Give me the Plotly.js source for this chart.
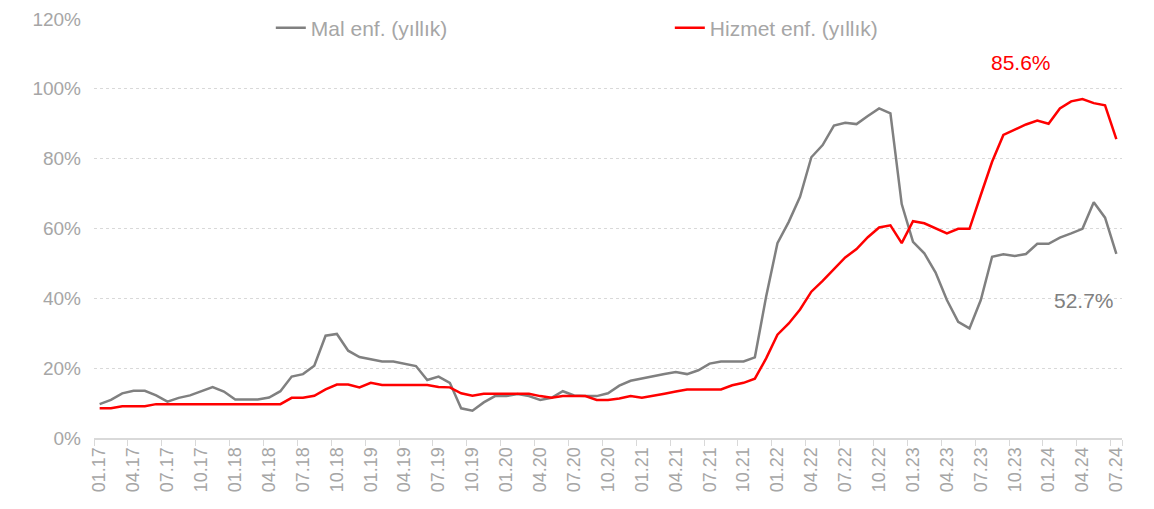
<!DOCTYPE html>
<html>
<head>
<meta charset="utf-8">
<script src="https://cdn.plot.ly/plotly-3.0.1.min.js"></script>
<style>
  html, body { margin: 0; padding: 0; background: #ffffff; }
  #chart { width: 1154px; height: 509px; }
</style>
</head>
<body>
<div id="chart"></div>
<script>
// Months (categories), 01.17 ... 07.24
const months = [
  "01.17","02.17","03.17","04.17","05.17","06.17","07.17","08.17","09.17","10.17","11.17","12.17",
  "01.18","02.18","03.18","04.18","05.18","06.18","07.18","08.18","09.18","10.18","11.18","12.18",
  "01.19","02.19","03.19","04.19","05.19","06.19","07.19","08.19","09.19","10.19","11.19","12.19",
  "01.20","02.20","03.20","04.20","05.20","06.20","07.20","08.20","09.20","10.20","11.20","12.20",
  "01.21","02.21","03.21","04.21","05.21","06.21","07.21","08.21","09.21","10.21","11.21","12.21",
  "01.22","02.22","03.22","04.22","05.22","06.22","07.22","08.22","09.22","10.22","11.22","12.22",
  "01.23","02.23","03.23","04.23","05.23","06.23","07.23","08.23","09.23","10.23","11.23","12.23",
  "01.24","02.24","03.24","04.24","05.24","06.24","07.24"
];

// Goods inflation (annual, %)
const malEnf = [
  9.7, 10.9, 12.8, 13.5, 13.5, 12.2, 10.4, 11.5, 12.2, 13.4, 14.6, 13.3,
  11.0, 11.0, 11.0, 11.6, 13.4, 17.6, 18.3, 20.7, 29.3, 29.8, 25.0, 23.2,
  22.5, 21.9, 21.9, 21.3, 20.6, 16.6, 17.6, 15.8, 8.5, 7.8, 10.2, 12.0,
  12.0, 12.6, 12.0, 10.9, 11.5, 13.4, 12.2, 12.0, 12.0, 12.8, 15.0, 16.4,
  17.1, 17.8, 18.3, 18.9, 18.3, 19.4, 21.3, 21.9, 21.9, 21.9, 23.1, 40.5,
  55.8, 61.9, 69.1, 80.4, 83.9, 89.5, 90.3, 89.9, 92.2, 94.4, 93.0, 67.0,
  56.2, 52.9, 47.4, 39.5, 33.3, 31.4, 39.5, 51.9, 52.6, 52.1, 52.7, 55.6,
  55.6, 57.4, 58.6, 59.9, 67.5, 63.1, 52.7
];

// Services inflation (annual, %)
const hizmetEnf = [
  8.5, 8.5, 9.1, 9.1, 9.1, 9.7, 9.7, 9.7, 9.7, 9.7, 9.7, 9.7,
  9.7, 9.7, 9.7, 9.7, 9.7, 11.5, 11.5, 12.1, 13.9, 15.3, 15.3, 14.5,
  15.8, 15.2, 15.2, 15.2, 15.2, 15.2, 14.6, 14.5, 12.8, 12.1, 12.7, 12.7,
  12.7, 12.7, 12.7, 12.0, 11.5, 12.0, 12.0, 12.0, 10.9, 10.9, 11.3, 12.0,
  11.5, 12.0, 12.7, 13.3, 13.9, 13.9, 13.9, 13.9, 15.1, 15.8, 17.0, 22.8,
  29.6, 32.8, 36.8, 41.9, 45.0, 48.4, 51.7, 54.1, 57.5, 60.3, 60.9, 55.8,
  62.1, 61.5, 60.0, 58.6, 59.9, 59.9, 69.6, 79.1, 86.8, 88.4, 89.8, 90.9,
  90.0, 94.4, 96.4, 97.1, 95.9, 95.3, 85.6
];

// Quarterly tick labels
const tickLabels = [
  "01.17","04.17","07.17","10.17","01.18","04.18","07.18","10.18",
  "01.19","04.19","07.19","10.19","01.20","04.20","07.20","10.20",
  "01.21","04.21","07.21","10.21","01.22","04.22","07.22","10.22",
  "01.23","04.23","07.23","10.23","01.24","04.24","07.24"
];

const seriesNames = ["Mal enf. (yıllık)", "Hizmet enf. (yıllık)"];

const FONT = "Liberation Sans, Arial, sans-serif";
const GRID = "#d9d9d9";
const TXT = "#a6a6a6";

const traces = [
  {
    x: months, y: malEnf, name: seriesNames[0], type: "scatter", mode: "lines",
    line: { color: "#808080", width: 2.5 }, hoverinfo: "x+y"
  },
  {
    x: months, y: hizmetEnf, name: seriesNames[1], type: "scatter", mode: "lines",
    line: { color: "#ff0000", width: 2.5 }, hoverinfo: "x+y"
  }
];

const lastMal = malEnf[malEnf.length - 1];
const lastHiz = hizmetEnf[hizmetEnf.length - 1];

const layout = {
  width: 1154, height: 509,
  margin: { l: 94, r: 32, t: 19, b: 71, autoexpand: false },
  paper_bgcolor: "#ffffff", plot_bgcolor: "#ffffff",
  font: { family: FONT, color: TXT, size: 18 },
  showlegend: true,
  legend: {
    orientation: "h", x: 0.172, xanchor: "left", y: 0.978, yanchor: "middle",
    bgcolor: "rgba(0,0,0,0)", borderwidth: 0,
    font: { family: FONT, size: 21, color: TXT },
    entrywidth: 354, entrywidthmode: "pixels"
  },
  xaxis: {
    type: "category",
    range: [-0.5, months.length - 0.5],
    tickmode: "array", tickvals: tickLabels, ticktext: tickLabels,
    tickson: "boundaries",
    ticks: "outside", ticklen: 6, tickcolor: GRID, tickwidth: 1,
    showline: true, linecolor: GRID, linewidth: 2,
    showgrid: false, zeroline: false,
    tickangle: -90,
    tickfont: { family: FONT, size: 18, color: TXT }
  },
  yaxis: {
    range: [0, 120], dtick: 20, tick0: 0, ticksuffix: "%",
    showgrid: true, gridcolor: GRID, gridwidth: 1, griddash: "dot",
    zeroline: false, showline: false, ticks: "",
    ticklabelstandoff: 12,
    tickfont: { family: FONT, size: 19, color: TXT }
  },
  annotations: [
    {
      xref: "paper", yref: "paper", x: 0.902, y: 0.897,
      xanchor: "center", yanchor: "middle",
      text: lastHiz.toFixed(1) + "%", showarrow: false,
      font: { family: FONT, size: 21, color: "#ff0000" }
    },
    {
      xref: "paper", yref: "paper", x: 0.963, y: 0.329,
      xanchor: "center", yanchor: "middle",
      text: lastMal.toFixed(1) + "%", showarrow: false,
      font: { family: FONT, size: 21, color: "#808080" }
    }
  ]
};

Plotly.newPlot("chart", traces, layout, { staticPlot: true, displayModeBar: false });
</script>
</body>
</html>
